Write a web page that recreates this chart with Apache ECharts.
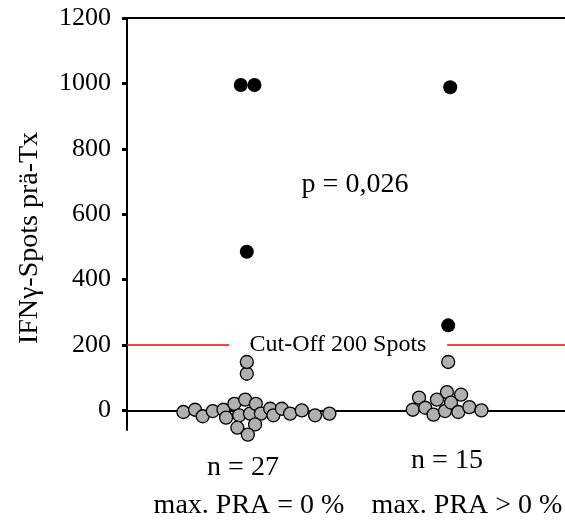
<!DOCTYPE html>
<html>
<head>
<meta charset="utf-8">
<script src="https://cdn.jsdelivr.net/npm/echarts@6/dist/echarts.min.js"></script>
<style>
  html, body { margin: 0; padding: 0; background: #fff; }
  #chart { width: 565px; height: 521px; }
</style>
</head>
<body>
<div id="chart"></div>
<script>
// group centres on the x axis
const groupPos = [1, 2];
const groupLabels = ["n = 27", "n = 15"];
const groupNames = ["max. PRA = 0 %", "max. PRA > 0 %"];
const yTicks = [0, 200, 400, 600, 800, 1000, 1200];
const cutOff = 200;

// [x offset from group centre, IFNγ spots]
const group1Grey = [
  [-0.315, -5], [-0.257, 2], [-0.219, -18], [-0.169, -2], [-0.116, 2],
  [-0.103, -22], [-0.062, 20], [-0.038, -15], [-0.008, 33], [0.016, -10],
  [0.045, 20], [0.070, -10], [0.116, 5], [0.132, -15], [0.174, 5],
  [0.215, -10], [0.273, 0], [0.339, -15], [0.410, -10], [-0.047, -53],
  [0.041, -43], [0.005, -74], [0, 112], [0, 148]
];
const group1Black = [[-0.03, 995], [0.038, 995], [0, 485]];

const group2Grey = [
  [-0.176, 2], [-0.145, 39], [-0.114, 8], [-0.073, -13], [-0.056, 33],
  [-0.016, -2], [-0.006, 56], [0.014, 24], [0.050, -5], [0.064, 48],
  [0.105, 10], [0.165, 0], [0, 148]
];
const group2Black = [[0, 260], [0.01, 988]];

const xMin = 0.405, xMax = 2.58;
const serif = "Liberation Serif";

function place(points, centre) {
  return points.map((p) => [centre + p[0], p[1]]);
}

const greyStyle = { color: "#b0b0b0", borderColor: "#000", borderWidth: 1.3, opacity: 1 };
const blackStyle = { color: "#000", opacity: 1 };

function text(str, x, y, size, rot) {
  return {
    type: "text",
    x: x,
    y: y,
    rotation: rot || 0,
    style: {
      text: str,
      font: size + "px " + serif,
      fill: "#000",
      align: "center",
      verticalAlign: "middle"
    }
  };
}

const chart = echarts.init(document.getElementById("chart"));
chart.setOption({
  animation: false,
  grid: { left: 127, right: 0, top: 18, bottom: 91 },
  xAxis: [
    {
      type: "value",
      min: xMin,
      max: xMax,
      axisLine: { onZero: true, lineStyle: { color: "#000", width: 2 } },
      axisTick: { show: false },
      axisLabel: { show: false },
      splitLine: { show: false }
    },
    {
      type: "value",
      position: "top",
      min: xMin,
      max: xMax,
      axisLine: { onZero: false, lineStyle: { color: "#000", width: 2 } },
      axisTick: { show: false },
      axisLabel: { show: false },
      splitLine: { show: false }
    }
  ],
  yAxis: {
    type: "value",
    min: -60,
    max: 1200,
    axisLine: { show: true, lineStyle: { color: "#000", width: 2 } },
    axisTick: {
      show: true,
      inside: false,
      length: 5,
      customValues: yTicks,
      lineStyle: { color: "#000", width: 3 }
    },
    axisLabel: {
      customValues: yTicks,
      formatter: (v) => String(v),
      margin: 16,
      fontFamily: serif,
      fontSize: 26,
      color: "#000"
    },
    splitLine: { show: false }
  },
  series: [
    {
      type: "scatter",
      clip: false,
      symbolSize: 13,
      itemStyle: greyStyle,
      data: place(group1Grey, groupPos[0]),
      markLine: {
        silent: true,
        symbol: "none",
        label: { show: false },
        lineStyle: { color: "#ff0000", width: 1.5, type: "solid", opacity: 1 },
        data: [
          [{ coord: [xMin, cutOff] }, { coord: [0.912, cutOff] }],
          [{ coord: [1.995, cutOff] }, { coord: [xMax, cutOff] }]
        ]
      }
    },
    {
      type: "scatter",
      clip: false,
      symbolSize: 13,
      itemStyle: greyStyle,
      data: place(group2Grey, groupPos[1])
    },
    {
      type: "scatter",
      clip: false,
      symbolSize: 14,
      itemStyle: blackStyle,
      data: place(group1Black, groupPos[0]).concat(place(group2Black, groupPos[1]))
    }
  ],
  graphic: [
    text("IFNγ-Spots prä-Tx", 30, 238, 28, Math.PI / 2),
    text("p = 0,026", 355, 185, 28),
    text("Cut-Off 200 Spots", 338, 345, 24),
    text(groupLabels[0], 243, 468, 28),
    text(groupLabels[1], 447, 461, 28),
    text(groupNames[0], 249, 506, 28),
    text(groupNames[1], 467, 506, 28)
  ]
});
</script>
</body>
</html>
